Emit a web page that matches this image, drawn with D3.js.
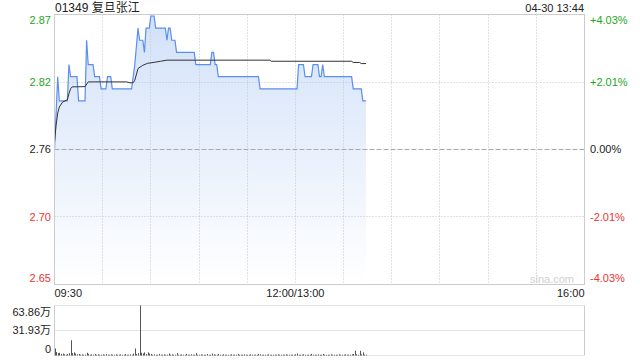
<!DOCTYPE html>
<html>
<head>
<meta charset="utf-8">
<script src="https://cdn.jsdelivr.net/npm/d3@7"></script>
<style>
  body { margin: 0; background: #fff; }
  text { font-family: "Liberation Sans", Arial, "Noto Sans CJK SC", sans-serif; font-size: 11px; }
</style>
</head>
<body>
<svg id="chart" width="640" height="360"></svg>
<script>
// ---- data ----
const stockName = "01349 复旦张江";
const stamp = "04-30 13:44";
const prevClose = 2.76;
const pctLevels = [0.0403, 0.0201, 0, -0.0201, -0.0403];
const priceTicks = ["2.87", "2.82", "2.76", "2.70", "2.65"];
const pctTicks = ["+4.03%", "+2.01%", "0.00%", "-2.01%", "-4.03%"];
const timeLabels = ["09:30", "12:00/13:00", "16:00"];
const volTicks = ["63.86万", "31.93万", "0"];
const volMax = 63.86;

// [minute since 09:30 (lunch removed), price]
const pricePts = [
  [0, 2.76], [2, 2.82], [3, 2.80], [8, 2.80], [9, 2.83], [10, 2.82], [14, 2.82], [15, 2.80],
  [19, 2.80], [20, 2.85], [21, 2.83], [24, 2.83], [25, 2.82], [28, 2.82], [29, 2.81], [32, 2.81],
  [33, 2.82], [35, 2.82], [36, 2.81], [48, 2.81], [50, 2.83], [52, 2.86], [53, 2.85], [55, 2.85],
  [56, 2.84], [57, 2.86], [59, 2.86], [60, 2.87], [62, 2.87], [63, 2.86], [69, 2.86], [70, 2.85],
  [71, 2.86], [72, 2.86], [73, 2.85], [75, 2.85], [76, 2.84], [87, 2.84], [88, 2.83], [97, 2.83],
  [98, 2.84], [99, 2.84], [100, 2.83], [101, 2.83], [102, 2.82], [127, 2.82], [128, 2.81], [151, 2.81],
  [152, 2.83], [155, 2.83], [156, 2.82], [160, 2.82], [161, 2.83], [164, 2.83], [165, 2.82], [166, 2.82],
  [167, 2.83], [168, 2.82], [185, 2.82], [186, 2.81], [191, 2.81], [192, 2.80], [194, 2.80]
];

const avgPts = [
  [0, 2.766], [1, 2.780], [2, 2.790], [3, 2.795], [5, 2.799], [8, 2.801], [9, 2.806], [10, 2.810],
  [11, 2.8116], [19, 2.8118], [21, 2.8157], [45, 2.8157], [47, 2.8149], [49, 2.8150], [50, 2.8171],
  [52, 2.8267], [55, 2.8294], [58, 2.8310], [62, 2.8318], [66, 2.8327], [70, 2.8336], [134, 2.8336],
  [135, 2.8327], [185, 2.8327], [186, 2.8317], [190, 2.8317], [191, 2.8308], [194, 2.8308]
];

// per-minute volume, in 万
const volumes = [
  9, 4.5, 3, 3.5, 2, 2.5, 1.5, 1, 2, 3,
  19.5, 3, 4, 2.5, 1.5, 2, 1, 1.5, 1, 1,
  3.5, 2, 1, 1.5, 1, 2, 1, 1.5, 1, 1,
  1.5, 1, 2, 1, 1, 1.5, 1, 1, 1.5, 1,
  1, 1.5, 1, 1, 2, 1, 1, 1.5, 1, 2.5,
  9, 2, 3, 63.86, 3.5, 2.5, 4, 2, 4, 2.5,
  2, 1, 1.5, 1, 1, 2, 1, 1, 1.5, 1,
  1, 2.5, 1, 1.5, 1, 1, 3, 1, 1, 1.5,
  1, 1, 2, 1, 1, 1.5, 1, 1, 3, 1,
  1, 1.5, 1, 1, 1, 2, 1, 1, 2.5, 1.5,
  1, 1, 2, 1, 1, 1.5, 1, 1, 1, 1,
  1.5, 1, 1, 1, 2, 1, 1, 1, 1.5, 1,
  1, 1, 1.5, 1, 1, 1, 1, 2, 1.5, 1,
  1, 1, 1, 1.5, 1, 1, 1, 1, 1, 1.5,
  1, 1, 1, 1, 1.5, 1, 1, 1, 1, 1,
  1.5, 2.5, 1, 1, 1, 1.5, 1, 1, 1, 1,
  2, 1, 1, 1, 1.5, 1, 1, 2, 1, 1,
  1, 1, 1.5, 1, 1, 1, 1, 1.5, 1, 1,
  1, 1.5, 1, 1, 1, 1.5, 2, 6, 1.5, 1,
  6, 1.5, 4, 1, 1
];

// ---- drawing ----
const svg = d3.select("#chart");
const frame = "#cccccc";
const green = "#1ca81c", red = "#ee3333", dark = "#222";

const x = d3.scaleLinear().domain([0, 330]).range([54.5, 584.5]);
const y = d3.scaleLinear()
  .domain([prevClose * (1 - pctLevels[0]), prevClose * (1 + pctLevels[0])])
  .range([284.5, 14.5]);
const yv = d3.scaleLinear().domain([0, volMax]).range([355.5, 305.5]);

const snap = v => Math.round(v - 0.5) + 0.5;

const defs = svg.append("defs");
const grad = defs.append("linearGradient")
  .attr("id", "fillGrad")
  .attr("gradientUnits", "userSpaceOnUse")
  .attr("x1", 0).attr("x2", 0).attr("y1", 14).attr("y2", 284);
grad.append("stop").attr("offset", "0%").attr("stop-color", "#d2e1f9");
grad.append("stop").attr("offset", "100%").attr("stop-color", "#ffffff");

// area under the price line
const area = d3.area()
  .x(d => x(d[0]))
  .y0(284.5)
  .y1(d => y(d[1]));
svg.append("path")
  .datum(pricePts)
  .attr("d", area)
  .attr("fill", "url(#fillGrad)");

// grid (drawn over the fill)
const grid = svg.append("g");
grid.selectAll("line.v")
  .data(d3.range(30, 330, 30))
  .join("line")
  .attr("x1", d => snap(x(d))).attr("x2", d => snap(x(d)))
  .attr("y1", 14.5).attr("y2", 284.5)
  .attr("stroke", "#c4c4c4")
  .attr("stroke-dasharray", "1,2");

grid.selectAll("line.h")
  .data(pctLevels.slice(1, -1))
  .join("line")
  .attr("x1", 54.5).attr("x2", 584.5)
  .attr("y1", d => snap(y(prevClose * (1 + d)))).attr("y2", d => snap(y(prevClose * (1 + d))))
  .attr("stroke", d => d === 0 ? "#aaaaaa" : "#c4c4c4")
  .attr("stroke-dasharray", d => d === 0 ? "5,2" : "1,2");

// price + average lines
svg.append("path")
  .datum(pricePts)
  .attr("d", d3.line().x(d => x(d[0])).y(d => y(d[1])))
  .attr("fill", "none")
  .attr("stroke", "#5a8eef")
  .attr("stroke-width", 1.2);

svg.append("path")
  .datum(avgPts)
  .attr("d", d3.line().x(d => x(d[0])).y(d => y(d[1])))
  .attr("fill", "none")
  .attr("stroke", "#333")
  .attr("stroke-width", 1);

// frame
svg.append("rect")
  .attr("x", 54.5).attr("y", 14.5)
  .attr("width", 530).attr("height", 270)
  .attr("fill", "none").attr("stroke", frame);

// watermark
svg.append("text")
  .attr("x", 574).attr("y", 283)
  .attr("text-anchor", "end")
  .attr("fill", "#d0d0d0")
  .text("sina.com");

// price / pct labels
const labelColor = i => i < 2 ? green : i === 2 ? dark : red;
const labelShift = i => i === 0 ? 6 : i === pctLevels.length - 1 ? -6 : 0;

svg.append("g").selectAll("text")
  .data(priceTicks)
  .join("text")
  .attr("x", 51)
  .attr("y", (d, i) => y(prevClose * (1 + pctLevels[i])) + labelShift(i))
  .attr("dy", "0.35em")
  .attr("text-anchor", "end")
  .attr("fill", (d, i) => labelColor(i))
  .text(d => d);

svg.append("g").selectAll("text")
  .data(pctTicks)
  .join("text")
  .attr("x", 590)
  .attr("y", (d, i) => y(prevClose * (1 + pctLevels[i])) + labelShift(i))
  .attr("dy", "0.35em")
  .attr("fill", (d, i) => labelColor(i))
  .text(d => d);

// time labels
const timeAt = [0, 150, 330];
const timeAnchor = ["start", "middle", "end"];
svg.append("g").selectAll("text")
  .data(timeLabels)
  .join("text")
  .attr("x", (d, i) => x(timeAt[i]))
  .attr("y", 297)
  .attr("text-anchor", (d, i) => timeAnchor[i])
  .attr("fill", dark)
  .text(d => d);

// title + stamp
svg.append("text")
  .attr("x", 55).attr("y", 12)
  .style("font-size", "12px")
  .attr("fill", dark)
  .text(stockName);

svg.append("text")
  .attr("x", 584).attr("y", 12)
  .attr("text-anchor", "end")
  .attr("fill", dark)
  .text(stamp);

// volume panel
const vol = svg.append("g");
const volLevels = [volMax, volMax / 2, 0];
vol.selectAll("line.g")
  .data(volLevels)
  .join("line")
  .attr("x1", 54.5).attr("x2", 584.5)
  .attr("y1", d => snap(yv(d))).attr("y2", d => snap(yv(d)))
  .attr("stroke", "#c8c8c8")
  .attr("stroke-dasharray", "1,1");

vol.selectAll("line.side")
  .data([54.5, 584.5])
  .join("line")
  .attr("x1", d => d).attr("x2", d => d)
  .attr("y1", 305.5).attr("y2", 355.5)
  .attr("stroke", frame);

vol.selectAll("rect")
  .data(volumes)
  .join("rect")
  .attr("x", (d, i) => Math.round(x(i)))
  .attr("width", 1)
  .attr("y", d => yv(d))
  .attr("height", d => yv(0) - yv(d))
  .attr("fill", "#555");

vol.selectAll("text")
  .data(volTicks)
  .join("text")
  .attr("x", 51)
  .attr("y", (d, i) => yv(volLevels[i]) + (i === 0 ? 7 : i === 2 ? -6 : 0))
  .attr("dy", "0.35em")
  .attr("text-anchor", "end")
  .attr("fill", dark)
  .text(d => d);
</script>
</body>
</html>
